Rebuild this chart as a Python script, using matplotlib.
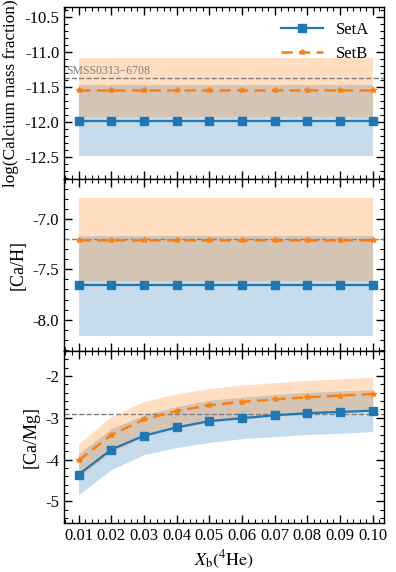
import matplotlib
matplotlib.use('Agg')
import matplotlib.pyplot as plt
import numpy as np
from matplotlib.ticker import AutoMinorLocator, MultipleLocator

plt.rcParams['font.family'] = 'Liberation Serif'
plt.rcParams['mathtext.fontset'] = 'stix'
plt.rcParams['axes.unicode_minus'] = False

xb = [0.01, 0.02, 0.03, 0.04, 0.05, 0.06, 0.07, 0.08, 0.09, 0.10]

# log(Calcium mass fraction)
logca_A = [-11.98] * 10
logca_A_lo = [-12.48] * 10
logca_A_hi = [-11.47] * 10
logca_B = [-11.55] * 10
logca_B_lo = [-11.93] * 10
logca_B_hi = [-11.09] * 10
logca_obs = -11.38

# [Ca/H]
cah_A = [-7.66] * 10
cah_A_lo = [-8.16] * 10
cah_A_hi = [-7.17] * 10
cah_B = [-7.21] * 10
cah_B_lo = [-7.62] * 10
cah_B_hi = [-6.79] * 10
cah_obs = -7.20

# [Ca/Mg]
camg_A = [-4.36, -3.76, -3.43, -3.23, -3.08, -3.01, -2.94, -2.89, -2.86, -2.83]
camg_A_lo = [-4.84, -4.24, -3.88, -3.71, -3.59, -3.50, -3.45, -3.40, -3.37, -3.33]
camg_A_hi = [-3.86, -3.26, -2.93, -2.73, -2.58, -2.51, -2.44, -2.39, -2.36, -2.33]
camg_B = [-4.02, -3.41, -3.04, -2.84, -2.70, -2.62, -2.56, -2.51, -2.47, -2.43]
camg_B_lo = [-4.42, -3.82, -3.45, -3.25, -3.11, -3.03, -2.97, -2.92, -2.88, -2.84]
camg_B_hi = [-3.63, -2.97, -2.61, -2.43, -2.30, -2.22, -2.16, -2.11, -2.07, -2.03]
camg_obs = -2.90

blue = '#1f77b4'
orange = '#ff7f0e'

fig, axes = plt.subplots(3, 1, figsize=(3.96, 5.72), dpi=100, sharex=True)
fig.subplots_adjust(left=0.162, right=0.97, top=0.988, bottom=0.086, hspace=0)

panels = [
    (logca_A, logca_A_lo, logca_A_hi, logca_B, logca_B_lo, logca_B_hi, logca_obs,
     'log(Calcium mass fraction)', (-12.81, -10.36), 0.5),
    (cah_A, cah_A_lo, cah_A_hi, cah_B, cah_B_lo, cah_B_hi, cah_obs,
     '[Ca/H]', (-8.31, -6.60), 0.5),
    (camg_A, camg_A_lo, camg_A_hi, camg_B, camg_B_lo, camg_B_hi, camg_obs,
     '[Ca/Mg]', (-5.51, -1.40), 1.0),
]

for ax, (a, alo, ahi, b, blo, bhi, obs, lab, ylim, major) in zip(axes, panels):
    ax.fill_between(xb, alo, ahi, color=blue, alpha=0.25, lw=0)
    ax.fill_between(xb, blo, bhi, color=orange, alpha=0.25, lw=0)
    ax.axhline(obs, color='gray', ls='--', lw=1)
    ax.plot(xb, a, color=blue, marker='s', ms=5.5, lw=1.6, label='SetA')
    ax.plot(xb, b, color=orange, marker='*', ms=4, lw=1.8, dashes=(4.5, 2.5),
            label='SetB')
    ax.set_ylabel(lab, fontsize=13 if len(lab) < 10 else 12.3)
    ax.set_ylim(*ylim)
    ax.yaxis.set_major_locator(MultipleLocator(major))
    ax.yaxis.set_minor_locator(AutoMinorLocator())
    ax.xaxis.set_minor_locator(AutoMinorLocator())
    ax.tick_params(which='both', direction='in', top=True, right=True, labelsize=12)
    ax.tick_params(which='major', length=6, width=1)
    ax.tick_params(which='minor', length=3, width=0.8)
    for s in ax.spines.values():
        s.set_linewidth(1)

axes[0].text(0.0063, logca_obs + 0.02, 'SMSS0313\u22126708', color='gray',
             fontsize=8.5, va='bottom', ha='left')
axes[0].legend(loc='upper right', frameon=False, fontsize=12, handlelength=2.5)

axes[2].set_xlim(0.0056, 0.1035)
axes[2].set_xticks(xb)
axes[2].set_xticklabels([f'{v:.2f}' for v in xb])
axes[2].set_xlabel(r'$X_{\rm b}(^4{\rm He})$', fontsize=13)

fig.savefig('out.png', dpi=100)
